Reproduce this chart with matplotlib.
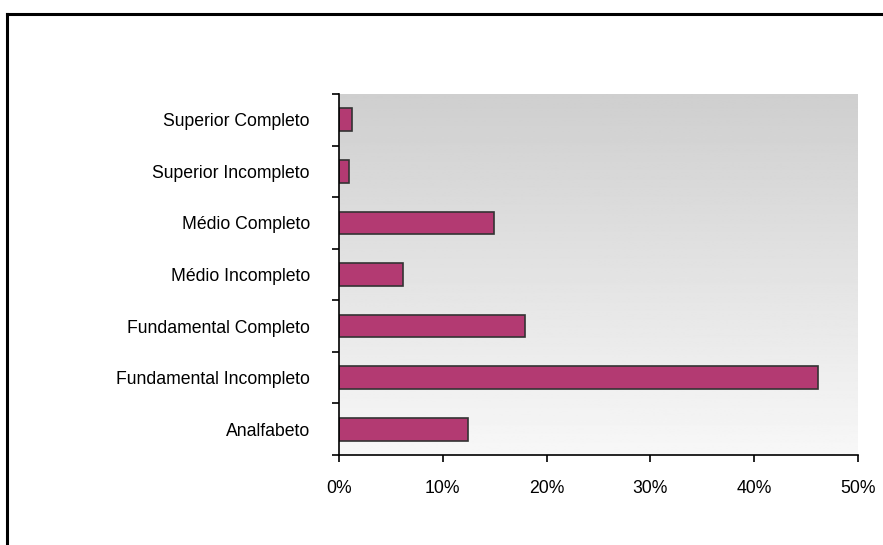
import matplotlib.pyplot as plt
import matplotlib.lines as mlines
import numpy as np
from matplotlib.ticker import FuncFormatter, FixedLocator

plt.rcParams['font.family'] = ['Liberation Sans', 'DejaVu Sans']

# escolaridade (de baixo para cima)
categorias = ['Analfabeto', 'Fundamental Incompleto', 'Fundamental Completo',
              'Médio Incompleto', 'Médio Completo', 'Superior Incompleto',
              'Superior Completo']
percentuais = [12.4, 46.1, 17.9, 6.2, 14.9, 1.0, 1.2]
xticks = [0, 10, 20, 30, 40, 50]

fig = plt.figure(figsize=(8.83, 5.45), dpi=100)
ax = fig.add_axes([0.384, 0.165, 0.5877, 0.6625])

y = np.arange(len(categorias))
ax.set_xlim(0, 50)
ax.set_ylim(-0.5, len(categorias) - 0.5)

# fundo em degradê cinza -> branco
grad = np.linspace(0.97, 0.81, 256).reshape(-1, 1)
ax.imshow(grad, cmap='gray', vmin=0, vmax=1, aspect='auto',
          extent=[0, 50, -0.5, len(categorias) - 0.5], origin='lower', zorder=0)

ax.barh(y, percentuais, height=0.44, color='#b33a72', edgecolor='#333333',
        linewidth=1.2, zorder=2)

ax.set_yticks(y)
ax.set_yticklabels(categorias)
ax.yaxis.set_minor_locator(FixedLocator(np.arange(-0.5, len(categorias), 1)))
ax.tick_params(axis='y', which='major', length=0, pad=21, labelsize=12.7)
ax.tick_params(axis='y', which='minor', length=5, width=1.2, direction='out')

ax.set_xticks(xticks)
ax.xaxis.set_major_formatter(FuncFormatter(lambda v, p: f'{v:.0f}%'))
ax.tick_params(axis='x', length=5, width=1.2, direction='out', pad=13, labelsize=12.7)

for s in ['top', 'right']:
    ax.spines[s].set_visible(False)
ax.spines['left'].set_linewidth(1.2)
ax.spines['bottom'].set_linewidth(1.2)

# moldura
fig.add_artist(mlines.Line2D([0.008, 1.0], [0.974, 0.974], color='black', lw=2.2,
                             transform=fig.transFigure))
fig.add_artist(mlines.Line2D([0.008, 0.008], [0.0, 0.974], color='black', lw=2.2,
                             transform=fig.transFigure))

fig.savefig('out.png', dpi=100)
